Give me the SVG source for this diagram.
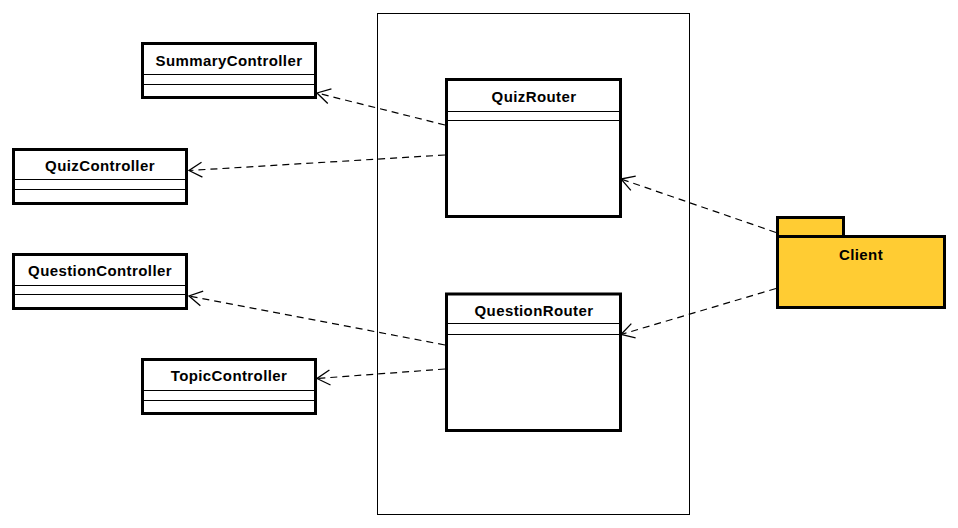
<svg xmlns="http://www.w3.org/2000/svg" width="958" height="528" viewBox="0 0 958 528">
<defs>
<style>
.box{fill:#fff;stroke:#000;stroke-width:3}
.div{stroke:#000;stroke-width:1}
.lbl{font-family:"Liberation Sans",Arial,sans-serif;font-size:15px;font-weight:bold;letter-spacing:0.4px;text-anchor:middle;fill:#000}
.dep{fill:none;stroke:#000;stroke-width:1.2;stroke-dasharray:7,5;marker-end:url(#open)}
.pkg{fill:#ffcc33;stroke:#000;stroke-width:3}
</style>
<marker id="open" markerUnits="userSpaceOnUse" markerWidth="30" markerHeight="30" refX="0" refY="0" orient="auto" viewBox="-20 -15 30 30" overflow="visible">
<path d="M-13,-7.5 L0,0 L-13,7.5" fill="none" stroke="#000" stroke-width="1.3"/>
</marker>
</defs>
<rect width="958" height="528" fill="#fff"/>
<g id="boundary">
<rect x="377.5" y="13.5" width="312" height="501" fill="none" stroke="#000" stroke-width="1"/>
</g>
<g id="SummaryController">
<rect class="box" x="142.5" y="43.5" width="173" height="54"/>
<line class="div" x1="142.5" y1="74.5" x2="315.5" y2="74.5"/>
<line class="div" x1="142.5" y1="84.5" x2="315.5" y2="84.5"/>
<text class="lbl" x="229" y="65.5">SummaryController</text>
</g>
<g id="QuizController">
<rect class="box" x="13.5" y="149.5" width="173" height="54"/>
<line class="div" x1="13.5" y1="179.5" x2="186.5" y2="179.5"/>
<line class="div" x1="13.5" y1="189.5" x2="186.5" y2="189.5"/>
<text class="lbl" x="100" y="171">QuizController</text>
</g>
<g id="QuestionController">
<rect class="box" x="13.5" y="254.5" width="173" height="54"/>
<line class="div" x1="13.5" y1="285.5" x2="186.5" y2="285.5"/>
<line class="div" x1="13.5" y1="294.5" x2="186.5" y2="294.5"/>
<text class="lbl" x="100" y="276">QuestionController</text>
</g>
<g id="TopicController">
<rect class="box" x="142.5" y="359.5" width="173" height="54"/>
<line class="div" x1="142.5" y1="390.5" x2="315.5" y2="390.5"/>
<line class="div" x1="142.5" y1="400.5" x2="315.5" y2="400.5"/>
<text class="lbl" x="229" y="381">TopicController</text>
</g>
<g id="QuizRouter">
<rect class="box" x="446.5" y="79.5" width="174" height="137"/>
<line class="div" x1="446.5" y1="111.5" x2="620.5" y2="111.5"/>
<line class="div" x1="446.5" y1="120.5" x2="620.5" y2="120.5"/>
<text class="lbl" x="534" y="101.5">QuizRouter</text>
</g>
<g id="QuestionRouter">
<rect class="box" x="446.5" y="294" width="174" height="136.5"/>
<line class="div" x1="446.5" y1="323.5" x2="620.5" y2="323.5"/>
<line class="div" x1="446.5" y1="334.5" x2="620.5" y2="334.5"/>
<text class="lbl" x="534" y="315.5">QuestionRouter</text>
</g>
<g id="Client">
<rect class="pkg" x="777.5" y="217.5" width="66" height="19"/>
<rect class="pkg" x="777.5" y="236.5" width="167" height="71"/>
<text class="lbl" x="861" y="260">Client</text>
</g>
<g id="connectors">
<path class="dep" d="M445,125 L317,93"/>
<path class="dep" d="M445,155 L189,170.5"/>
<path class="dep" d="M445,345 L189,296"/>
<path class="dep" d="M445,369 L317,378.5"/>
<path class="dep" d="M776,232.5 L621,179"/>
<path class="dep" d="M776,288.5 L621,334.5"/>
</g>
</svg>
